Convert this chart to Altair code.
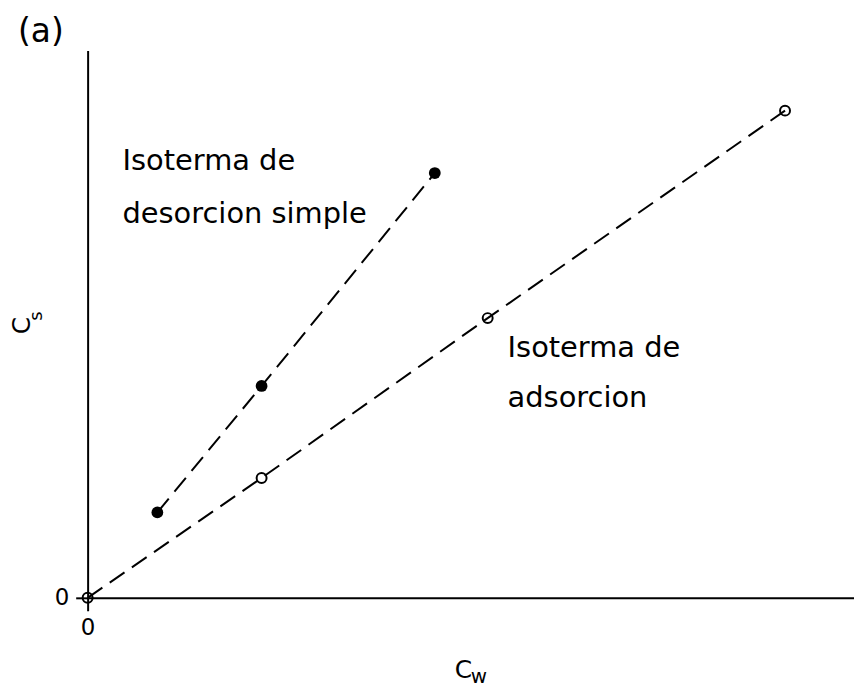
import altair as alt
import pandas as pd

# Data (arbitrary units, axes 0..10)
des_x = [0.91, 2.27, 4.53]
des_y = [1.56, 3.87, 7.76]
ads_x = [0.0, 2.27, 5.22, 9.10]
ads_y = [0.0, 2.19, 5.11, 8.90]

label_x = [0.455, 0.455, 5.48, 5.48]
label_y = [7.82, 6.84, 4.40, 3.49]
label_text = ["Isoterma de", "desorcion simple", "Isoterma de", "adsorcion"]

FONT = "DejaVu Sans"

des = pd.DataFrame({"x": des_x, "y": des_y})
ads = pd.DataFrame({"x": ads_x, "y": ads_y})
labels = pd.DataFrame({"x": label_x, "y": label_y, "t": label_text})

xscale = alt.Scale(domain=[0, 10], nice=False, zero=False)
yscale = alt.Scale(domain=[0, 10], nice=False, zero=False)

xaxis = alt.Axis(values=[0], format="d", grid=False, tickSize=13, tickWidth=2, tickColor="black",
                 domainWidth=2, domainColor="black", labelFontSize=23, labelFont=FONT,
                 labelColor="black", labelPadding=6, labelFlush=False,
                 title="C", titleFont=FONT, titleFontSize=25, titleFontWeight="normal",
                 titleColor="black", titleX=377, titleY=80, titleBaseline="alphabetic",
                 titleAlign="center")
yaxis = alt.Axis(values=[0], format="d", grid=False, tickSize=12, tickWidth=2, tickColor="black",
                 domainWidth=2, domainColor="black", labelFontSize=23, labelFont=FONT,
                 labelColor="black", labelPadding=7, labelFlush=False,
                 title="C", titleFont=FONT, titleFontSize=25, titleFontWeight="normal",
                 titleColor="black", titleAngle=270, titleX=-58, titleY=276,
                 titleBaseline="alphabetic", titleAlign="center")

X = alt.X("x:Q", scale=xscale, axis=xaxis)
Y = alt.Y("y:Q", scale=yscale, axis=yaxis)
Xn = alt.X("x:Q", scale=xscale)
Yn = alt.Y("y:Q", scale=yscale)

des_line = alt.Chart(des).mark_line(color="black", strokeWidth=2, strokeDash=[18, 9]).encode(x=X, y=Y)
des_pts = alt.Chart(des).mark_point(shape="circle", filled=True, color="black", size=140, opacity=1).encode(x=Xn, y=Yn)
ads_line = alt.Chart(ads).mark_line(color="black", strokeWidth=2, strokeDash=[18, 9]).encode(x=Xn, y=Yn)
ads_pts = alt.Chart(ads).mark_point(shape="circle", filled=False, color="black", size=100,
                                    strokeWidth=2, opacity=1).encode(x=Xn, y=Yn)

txt = alt.Chart(labels).mark_text(font=FONT, fontSize=29, align="left", baseline="alphabetic",
                                  color="black").encode(x=Xn, y=Yn, text="t:N")

sub_s = alt.Chart(pd.DataFrame({"t": ["s"]})).mark_text(font=FONT, fontSize=18, angle=270,
        align="center", baseline="alphabetic", color="black").encode(
        x=alt.value(-46), y=alt.value(267), text="t:N")
sub_w = alt.Chart(pd.DataFrame({"t": ["w"]})).mark_text(font=FONT, fontSize=20,
        align="center", baseline="alphabetic", color="black").encode(
        x=alt.value(393), y=alt.value(636), text="t:N")

chart = alt.layer(des_line, ads_line, des_pts, ads_pts, txt, sub_s, sub_w).properties(
    width=770, height=550,
    title=alt.TitleParams("(a)", anchor="start", frame="group", dx=-70, dy=31, offset=6,
                          fontSize=33, fontWeight="normal", font=FONT, color="black",
                          baseline="alphabetic"),
    autosize=alt.AutoSizeParams(type="none"),
    padding={"left": 80, "top": 41, "right": 0, "bottom": 92},
    background="white",
).configure_view(stroke=None)

chart.save("out.html", embed_options={"renderer": "svg", "actions": False})
